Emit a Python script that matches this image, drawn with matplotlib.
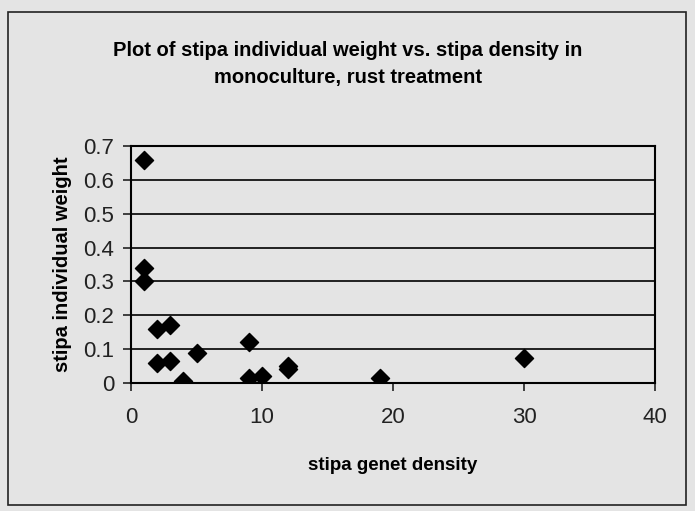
import matplotlib.pyplot as plt
from matplotlib.patches import Rectangle

# stipa genet density vs individual weight
density = [1, 1, 1, 2, 3, 2, 3, 4, 5, 9, 9, 10, 12, 12, 19, 30]
weight = [0.66, 0.34, 0.30, 0.16, 0.17, 0.06, 0.065, 0.005, 0.09,
          0.12, 0.015, 0.02, 0.04, 0.05, 0.015, 0.075]

x_ticks = [0, 10, 20, 30, 40]
y_ticks = [0, 0.1, 0.2, 0.3, 0.4, 0.5, 0.6, 0.7]
y_tick_labels = ["0", "0.1", "0.2", "0.3", "0.4", "0.5", "0.6", "0.7"]

bg = "#e4e4e4"
plt.rcParams['font.family'] = ['Liberation Sans', 'DejaVu Sans']

fig = plt.figure(figsize=(6.95, 5.11), dpi=100, facecolor=bg)
# outer chart border
fig.patches.append(Rectangle((8 / 695, 6 / 511), 678 / 695, 493 / 511,
                             transform=fig.transFigure, fill=False,
                             edgecolor="#222222", linewidth=1.2))

ax = fig.add_axes([131 / 695, 1 - 383 / 511, 524 / 695, 237 / 511])
ax.set_facecolor(bg)

for y in y_ticks[1:]:
    ax.axhline(y, color="black", linewidth=1.2, zorder=1)

ax.scatter(density, weight, marker="D", s=85, color="black", zorder=3)

ax.set_xlim(0, 40)
ax.set_ylim(0, 0.7)
ax.set_xticks(x_ticks)
ax.set_yticks(y_ticks)
ax.set_yticklabels(y_tick_labels)
ax.tick_params(direction="out", length=6, width=1.2, labelsize=16, colors="#222222")
ax.tick_params(axis="x", pad=11)
ax.tick_params(axis="y", pad=6)

for side in ax.spines.values():
    side.set_linewidth(1.5)

ax.set_xlabel("stipa genet density", fontsize=13.5, fontweight="bold", labelpad=21)
ax.set_ylabel("stipa individual weight", fontsize=14.5, fontweight="bold", labelpad=8)

fig.text(0.5, 1 - 50 / 511, "Plot of stipa individual weight vs. stipa density in",
         ha="center", va="center", fontsize=14.5, fontweight="bold")
fig.text(0.5, 1 - 77 / 511, "monoculture, rust treatment",
         ha="center", va="center", fontsize=14.5, fontweight="bold")

fig.savefig("out.png", dpi=100, facecolor=bg)
